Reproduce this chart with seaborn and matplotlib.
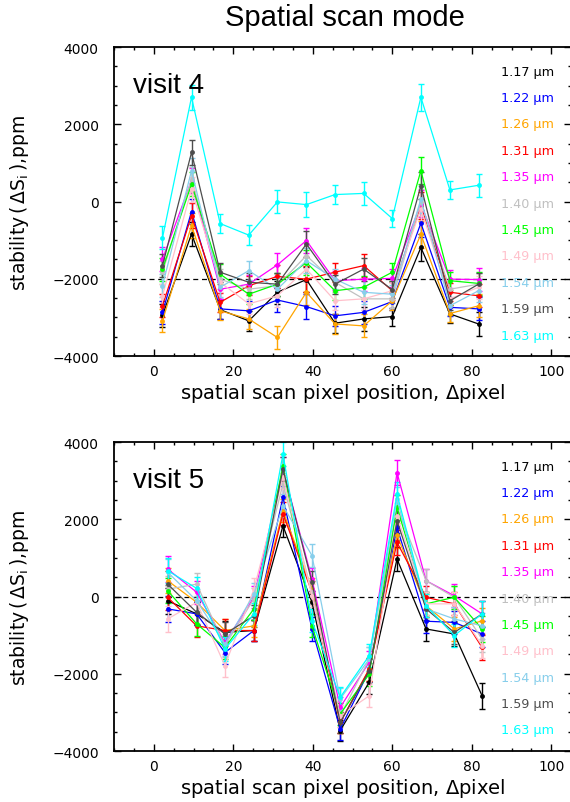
import numpy as np
import pandas as pd
import matplotlib
matplotlib.use("Agg")
import matplotlib.pyplot as plt
import seaborn as sns
from matplotlib.ticker import MultipleLocator

sns.set_theme(style="ticks")
plt.rcParams['font.family'] = ['DejaVu Sans']
plt.rcParams['mathtext.fontset'] = 'dejavusans'
plt.rcParams['text.color'] = 'black'
plt.rcParams['axes.labelcolor'] = 'black'

wavelengths = ["1.17", "1.22", "1.26", "1.31", "1.35", "1.40", "1.45", "1.49", "1.54", "1.59", "1.63"]
colors = ["#000000", "#0000ff", "#ffa500", "#ff0000", "#ff00ff", "#c0c0c0",
          "#00ff00", "#ffc0cb", "#87ceeb", "#4d4d4d", "#00ffff"]

# ---- visit 4 ----
x_v4 = [2.2, 9.5, 16.7, 23.9, 31.1, 38.4, 45.6, 52.8, 60.0, 67.2, 74.5, 81.7]
v4_117 = [-2950, -840, -2800, -3090, -2350, -2020, -3150, -3040, -2980, -1190, -2910, -3170]
v4_122 = [-2870, -260, -2780, -2830, -2550, -2720, -2960, -2870, -2590, -560, -2740, -2780]
v4_126 = [-3090, -620, -2830, -3040, -3520, -2350, -3170, -3220, -2570, -850, -2900, -2700]
v4_131 = [-2700, -370, -2610, -2180, -1940, -2010, -1830, -1660, -2310, -110, -2350, -2440]
v4_135 = [-1490, 540, -2270, -2140, -1640, -1010, -2050, -2010, -1990, -60, -2010, -2020]
v4_140 = [-1830, 580, -2010, -2270, -2180, -1400, -2090, -2520, -2520, -20, -2270, -2140]
v4_145 = [-1750, 450, -1880, -2400, -2140, -1580, -2310, -2220, -1830, 800, -2050, -2120]
v4_149 = [-2440, 320, -2090, -2650, -2440, -1750, -2570, -2520, -2310, -190, -2520, -2220]
v4_154 = [-2180, 800, -2220, -1790, -2270, -1530, -2010, -2350, -2400, 60, -2700, -2310]
v4_159 = [-1660, 1270, -1830, -2090, -2140, -1100, -2140, -1750, -2280, 410, -2570, -2140]
v4_163 = [-940, 2700, -570, -870, -10, -80, 180, 210, -440, 2700, 300, 420]
err_v4 = [300, 320, 250, 250, 300, 330, 250, 300, 230, 350, 230, 300]

# ---- visit 5 ----
x_v5 = [3.5, 10.8, 17.9, 25.2, 32.5, 39.8, 46.9, 54.2, 61.2, 68.5, 75.6, 82.6]
v5_117 = [-110, -450, -930, -880, 1830, -150, -3470, -2220, 970, -840, -970, -2570]
v5_122 = [-320, -450, -1450, -880, 2570, -840, -3430, -1920, 1790, -640, -670, -970]
v5_126 = [410, -150, -880, -760, 2220, 190, -3260, -1880, 1580, -240, -840, -630]
v5_131 = [-20, -760, -880, -880, 2140, 110, -3260, -1880, 1400, -20, -190, -1320]
v5_135 = [710, 110, -1190, -20, 3300, 450, -2870, -1700, 3210, 410, 20, -450]
v5_140 = [190, 320, -1270, -60, 2910, 110, -3090, -1620, 2310, 410, -20, -1100]
v5_145 = [150, -710, -1320, -320, 3390, -760, -3040, -2010, 2310, -190, -20, -840]
v5_149 = [-580, -150, -1790, 190, 3090, 20, -3090, -2570, 2090, -190, -190, -1270]
v5_154 = [630, -110, -1230, 60, 2350, 1060, -2650, -1620, 2520, -320, -580, -760]
v5_159 = [320, -410, -970, -500, 3300, 370, -3260, -1920, 1960, -320, -930, -450]
v5_163 = [670, 210, -1360, -450, 3690, -630, -2610, -1530, 2650, -240, -1010, -450]
err_v5 = [330, 300, 300, 280, 300, 300, 280, 300, 320, 300, 300, 330]

series_v4 = [v4_117, v4_122, v4_126, v4_131, v4_135, v4_140, v4_145, v4_149, v4_154, v4_159, v4_163]
series_v5 = [v5_117, v5_122, v5_126, v5_131, v5_135, v5_140, v5_145, v5_149, v5_154, v5_159, v5_163]

fig = plt.figure(figsize=(5.70, 8.03), dpi=100)
ax1 = fig.add_axes([0.2, 0.5554, 0.802, 0.3848])
ax2 = fig.add_axes([0.2, 0.0635, 0.802, 0.3848])

panels = [(ax1, x_v4, series_v4, err_v4, "visit 4", -2000),
          (ax2, x_v5, series_v5, err_v5, "visit 5", 0)]

palette = dict(zip(wavelengths, colors))

for ax, xs, series, err, label, hline in panels:
    df = pd.DataFrame({
        "x": np.tile(xs, len(wavelengths)),
        "y": np.concatenate(series),
        "wl": np.repeat(wavelengths, len(xs)),
    })
    ax.axhline(hline, color="black", ls=(0, (4, 3)), lw=0.9, zorder=1)
    for wl, ys in zip(wavelengths, series):
        ax.errorbar(xs, ys, yerr=err, fmt="none", ecolor=palette[wl],
                    elinewidth=1.0, capsize=2, capthick=1.0, zorder=2)
    sns.lineplot(data=df, x="x", y="y", hue="wl", palette=palette, ax=ax,
                 marker="o", markersize=3.5, markeredgewidth=0, linewidth=0.9,
                 estimator=None, sort=False, legend=False, zorder=3)
    ax.set_xlim(-10, 105)
    ax.set_ylim(-4000, 4000)
    ax.xaxis.set_major_locator(MultipleLocator(20))
    ax.xaxis.set_minor_locator(MultipleLocator(5))
    ax.yaxis.set_major_locator(MultipleLocator(2000))
    ax.yaxis.set_minor_locator(MultipleLocator(500))
    ax.tick_params(which="both", direction="in", top=True, right=True, labelsize=10,
                   color="black", labelcolor="black", width=1.0)
    ax.tick_params(which="major", length=5)
    ax.tick_params(which="minor", length=2.5)
    ax.tick_params(axis="y", which="major", pad=11)
    ax.tick_params(axis="x", which="major", pad=6)
    for sp in ax.spines.values():
        sp.set_linewidth(1.3)
        sp.set_color("black")
    ax.set_xlabel("spatial scan pixel position, $\\Delta$pixel", fontsize=14, labelpad=2, color="black")
    ax.set_ylabel("stability$\\,(\\,\\Delta\\mathrm{S}_\\mathrm{i}\\,)$,ppm", fontsize=13.5, labelpad=15, color="black")
    ax.text(0.042, 0.855, label, transform=ax.transAxes, fontsize=20, color="black",
            family="Liberation Sans", ha="left", va="baseline")
    for i, (wl, c) in enumerate(zip(wavelengths, colors)):
        ax.text(0.962, 0.922 - i * 0.0854, f"{wl} µm", transform=ax.transAxes,
                color=c, fontsize=9.2, ha="right", va="center")

fig.text(0.605, 0.978, "Spatial scan mode", ha="center", va="center",
         fontsize=21, family="Liberation Sans", color="black")

fig.savefig("out.png", dpi=100)
